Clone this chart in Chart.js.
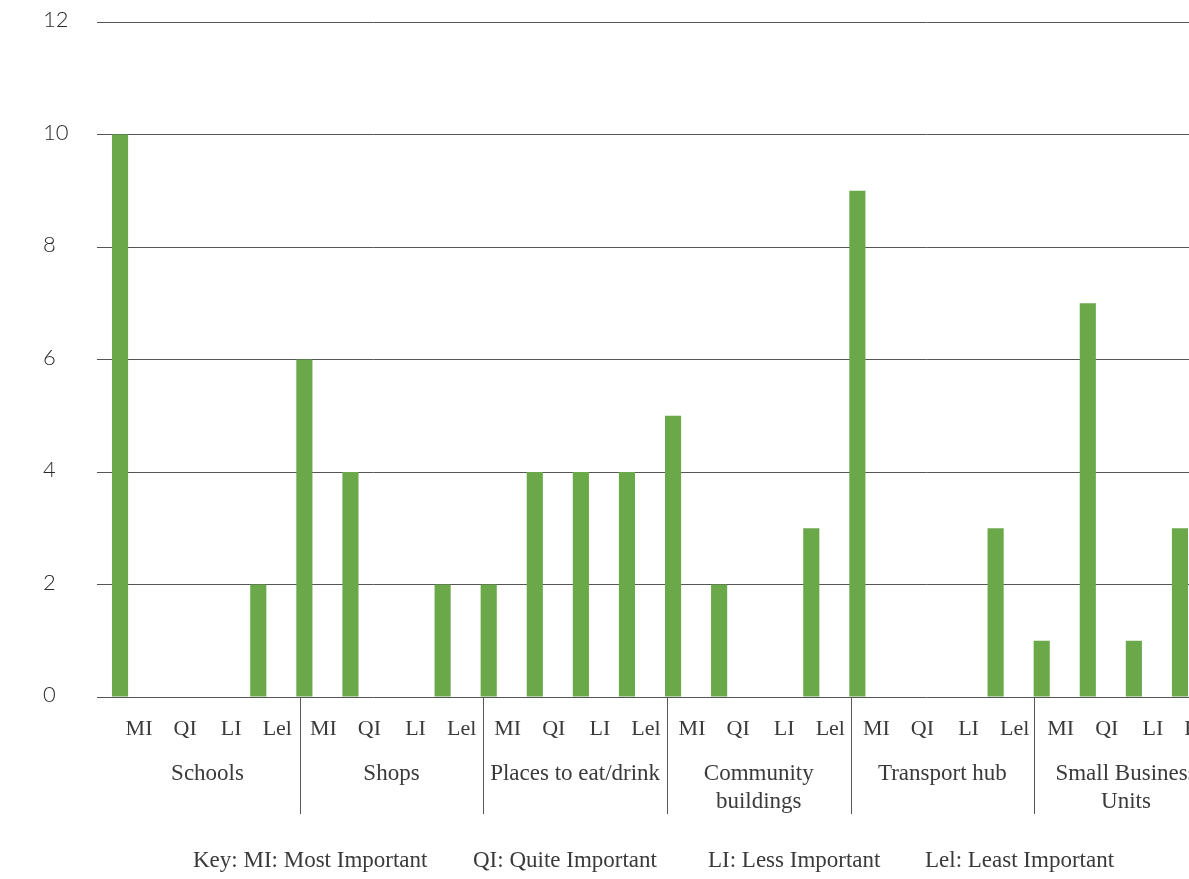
<!DOCTYPE html>
<html>
<head>
<meta charset="utf-8">
<script src="https://cdn.jsdelivr.net/npm/chart.js@4.4.1/dist/chart.umd.min.js"></script>
<style>
  html, body { margin: 0; padding: 0; background: #fff; overflow: hidden; }
  #wrap { width: 1215px; height: 879px; position: relative; }
</style>
</head>
<body>
<div id="wrap"><canvas id="c"></canvas></div>
<script>
// groups along the x axis, and the four ranks inside each group
const groups = ['Schools', 'Shops', 'Places to eat/drink', ['Community', 'buildings'], 'Transport hub', ['Small Business', 'Units']];
const ranks = ['MI', 'QI', 'LI', 'Lel'];

// number of responses per rank (MI, QI, LI, Lel)
const schools = [10, 0, 0, 2];
const shops = [6, 4, 0, 2];
const places = [2, 4, 4, 4];
const community = [5, 2, 0, 3];
const transport = [9, 0, 0, 3];
const business = [1, 7, 1, 3];

const keyItems = ['Key: MI: Most Important', 'QI: Quite Important', 'LI: Less Important', 'Lel: Least Important'];
const keyX = [193, 473, 708, 925];

const labels = groups.flatMap(() => ranks);
const values = [].concat(schools, shops, places, community, transport, business);

const serif = '"Liberation Serif", "Times New Roman", serif';
const textColor = '#3a3a3a';
const lineColor = '#555555';

// group separators, group names and the key under the axis
const groupAxis = {
  id: 'groupAxis',
  afterDraw(chart) {
    const ctx = chart.ctx;
    const x = chart.scales.x;
    const base = chart.chartArea.bottom;
    const step = x.getPixelForValue(1) - x.getPixelForValue(0);
    const sep = (g) => x.getPixelForValue(g * ranks.length) - 4 - 0.7 * g;

    ctx.save();
    ctx.strokeStyle = lineColor;
    ctx.lineWidth = 1;
    for (let g = 1; g <= groups.length; g++) {
      const px = Math.round(sep(g)) + 0.5;
      ctx.beginPath();
      ctx.moveTo(px, base);
      ctx.lineTo(px, 814);
      ctx.stroke();
    }

    ctx.fillStyle = textColor;
    ctx.font = '23px ' + serif;
    ctx.textAlign = 'center';
    ctx.textBaseline = 'middle';
    groups.forEach((name, g) => {
      const left = g === 0 ? sep(1) - step * ranks.length : sep(g);
      const cx = (left + sep(g + 1)) / 2;
      const lines = Array.isArray(name) ? name : [name];
      lines.forEach((t, i) => ctx.fillText(t, cx, 774 + i * 28));
    });

    // key line
    ctx.textAlign = 'left';
    keyItems.forEach((t, i) => ctx.fillText(t, keyX[i], 861));
    ctx.restore();
  }
};

new Chart(document.getElementById('c'), {
  type: 'bar',
  data: {
    labels: labels,
    datasets: [{
      data: values,
      backgroundColor: '#6aa84a',
      borderWidth: 0,
      barPercentage: 0.35,
      categoryPercentage: 1
    }]
  },
  options: {
    responsive: true,
    maintainAspectRatio: false,
    animation: false,
    layout: { padding: { left: 43, top: 22, right: 12, bottom: 0 } },
    plugins: { legend: { display: false }, tooltip: { enabled: false } },
    scales: {
      x: {
        grid: { display: false, drawTicks: false },
        border: { display: false },
        ticks: {
          autoSkip: false,
          maxRotation: 0,
          minRotation: 0,
          labelOffset: 19,
          padding: 19,
          color: textColor,
          font: { family: serif, size: 22 }
        },
        afterFit: (s) => { s.height = 182; }
      },
      y: {
        min: 0,
        max: 12,
        grid: { color: lineColor, lineWidth: 1, drawTicks: false },
        border: { display: false },
        ticks: {
          stepSize: 2,
          crossAlign: 'far',
          labelOffset: -2,
          color: '#2a2a2a',
          font: { family: 'Lato, "Open Sans", sans-serif', size: 22, weight: 300 }
        },
        afterFit: (s) => { s.width = 54; }
      }
    }
  },
  plugins: [groupAxis]
});
</script>
</body>
</html>
